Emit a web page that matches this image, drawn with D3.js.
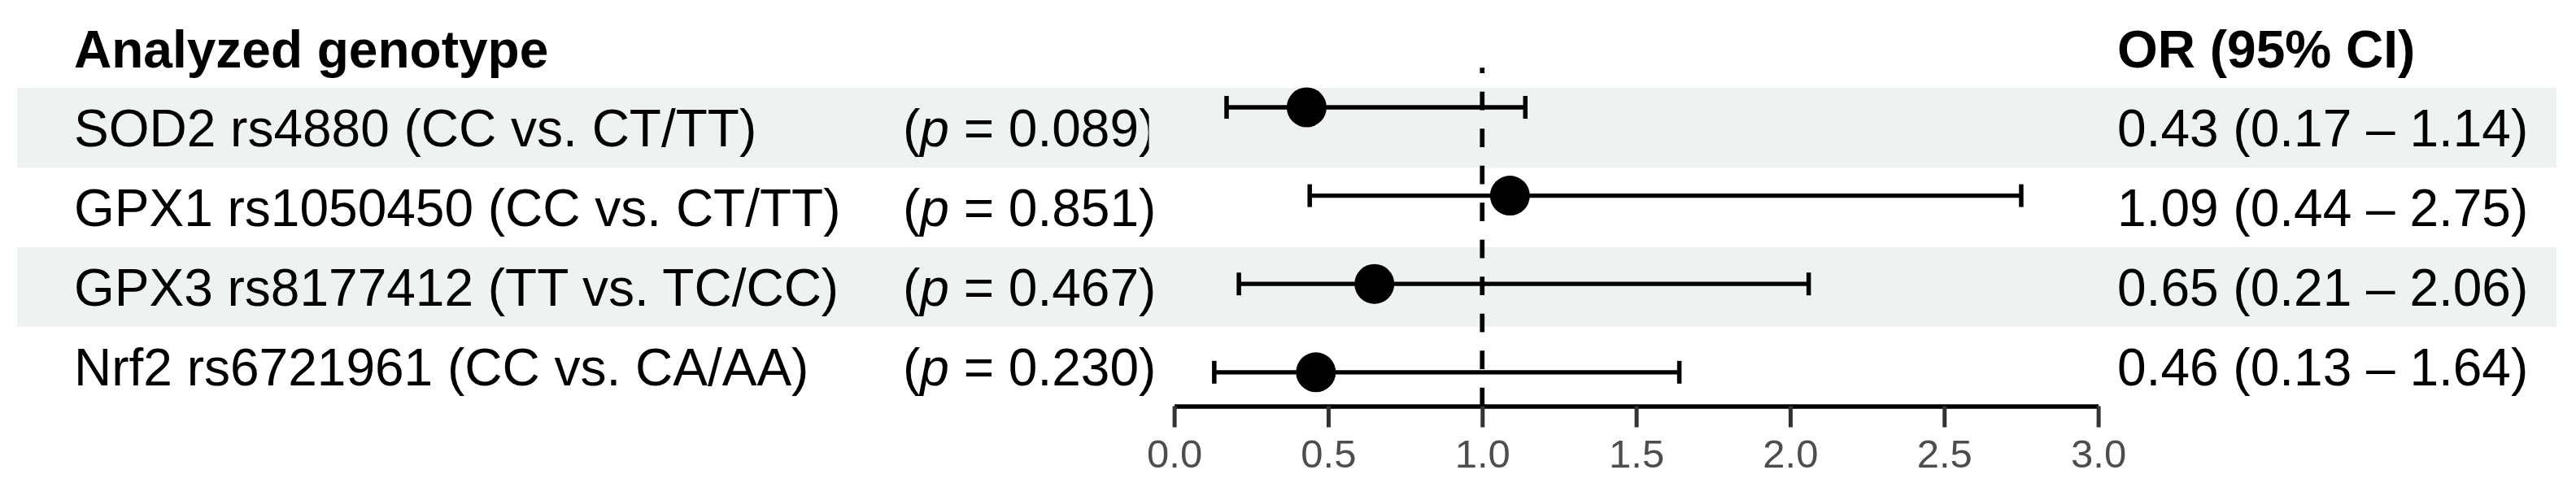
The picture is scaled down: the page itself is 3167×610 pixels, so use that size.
<!DOCTYPE html>
<html>
<head>
<meta charset="utf-8">
<script src="https://cdn.jsdelivr.net/npm/d3@7"></script>
<style>
  html, body { margin: 0; padding: 0; background: #fff; }
  svg { display: block; }
  text { font-family: "Liberation Sans", Arial, Helvetica, sans-serif; }
</style>
</head>
<body>
<script>
// ---- data ----
const genotypes = [
  "SOD2 rs4880 (CC vs. CT/TT)",
  "GPX1 rs1050450 (CC vs. CT/TT)",
  "GPX3 rs8177412 (TT vs. TC/CC)",
  "Nrf2 rs6721961 (CC vs. CA/AA)"
];
const pValues = ["0.089", "0.851", "0.467", "0.230"];
const oddsRatio = [0.43, 1.09, 0.65, 0.46];
const ciLower = [0.17, 0.44, 0.21, 0.13];
const ciUpper = [1.14, 2.75, 2.06, 1.64];
const xTicks = [0, 0.5, 1.0, 1.5, 2.0, 2.5, 3.0];
const headerLabel = "Analyzed genotype";
const headerOR = "OR (95% CI)";
const refLine = 1;

const rows = genotypes.map((g, i) => ({
  g, p: pValues[i], or: oddsRatio[i], lo: ciLower[i], hi: ciUpper[i], i
}));

const W = 3167, H = 610;
const svg = d3.select("body").append("svg").attr("width", W).attr("height", H);

const bandColor = "#eef2f1";
const fontSize = 64;

// row layout of the table
const rowBand = d3.scaleBand().domain(genotypes).range([108, 500]).paddingInner(0).paddingOuter(0);
// forest panel
const x = d3.scaleLinear().domain([0, 3]).range([1443.6, 2579.6]);
const y = d3.scalePoint().domain(genotypes).range([132, 457.8]);

// bands
svg.append("g").selectAll("rect").data(rows.filter(d => d.i % 2 === 0)).join("rect")
  .attr("x", 21).attr("width", 3143 - 21)
  .attr("y", d => rowBand(d.g)).attr("height", rowBand.bandwidth())
  .attr("fill", bandColor);

// headers
svg.append("text").attr("x", 91).attr("y", 83).attr("font-size", fontSize)
  .attr("font-weight", "bold").attr("fill", "#000").text(headerLabel);
svg.append("text").attr("x", 2603).attr("y", 83).attr("font-size", fontSize)
  .attr("font-weight", "bold").attr("fill", "#000").text(headerOR);

const textY = d => rowBand(d.g) + rowBand.bandwidth() / 2 + 23;

// genotype labels
svg.append("g").selectAll("text").data(rows).join("text")
  .attr("x", 91).attr("y", textY).attr("font-size", fontSize).attr("fill", "#000")
  .text(d => d.g);

// p values
const pt = svg.append("g").selectAll("text").data(rows).join("text")
  .attr("x", 1110).attr("y", textY).attr("font-size", fontSize).attr("fill", "#000")
  .attr("xml:space", "preserve");
pt.append("tspan").text("(");
pt.append("tspan").attr("font-style", "italic").text("p");
pt.append("tspan").text(d => " = " + d.p + ")");

// forest panel background over the first row (covers text overflow)
svg.append("g").selectAll("rect").data(rows.filter(d => d.i === 0)).join("rect")
  .attr("x", 1412.5).attr("width", 3143 - 1412.5)
  .attr("y", d => rowBand(d.g)).attr("height", rowBand.bandwidth())
  .attr("fill", bandColor);

// OR text
svg.append("g").selectAll("text").data(rows).join("text")
  .attr("x", 2603).attr("y", textY).attr("font-size", fontSize).attr("fill", "#000")
  .text(d => `${d.or.toFixed(2)} (${d.lo.toFixed(2)} \u2013 ${d.hi.toFixed(2)})`);

// reference dashed line
svg.append("path")
  .attr("d", d3.line()([[x(refLine), 499.5], [x(refLine), 83.3]]))
  .attr("stroke", "#000").attr("stroke-width", 5.7)
  .attr("stroke-dasharray", "22.75 22.75").attr("fill", "none");

// error bars
const eb = svg.append("g").selectAll("g").data(rows).join("g");
eb.append("line")
  .attr("x1", d => x(d.lo)).attr("x2", d => x(d.hi))
  .attr("y1", d => y(d.g)).attr("y2", d => y(d.g))
  .attr("stroke", "#000").attr("stroke-width", 5.3);
eb.append("line")
  .attr("x1", d => x(d.lo)).attr("x2", d => x(d.lo))
  .attr("y1", d => y(d.g) - 14).attr("y2", d => y(d.g) + 14)
  .attr("stroke", "#000").attr("stroke-width", 5.5);
eb.append("line")
  .attr("x1", d => x(d.hi)).attr("x2", d => x(d.hi))
  .attr("y1", d => y(d.g) - 14).attr("y2", d => y(d.g) + 14)
  .attr("stroke", "#000").attr("stroke-width", 5.5);

// points
svg.append("g").selectAll("circle").data(rows).join("circle")
  .attr("cx", d => x(d.or)).attr("cy", d => y(d.g)).attr("r", 24.5)
  .attr("fill", "#000");

// x axis
const ax = svg.append("g").attr("transform", "translate(0,499.5)")
  .call(d3.axisBottom(x).tickValues(xTicks).tickFormat(d3.format(".1f"))
    .tickSize(26).tickSizeOuter(0).tickPadding(15));
ax.select(".domain").attr("stroke", "#000").attr("stroke-width", 5.5);
ax.selectAll(".tick line").attr("stroke", "#333").attr("stroke-width", 5);
ax.selectAll(".tick text").attr("font-size", 49).attr("fill", "#4d4d4d")
  .attr("font-family", "'Liberation Sans', Arial, sans-serif");
</script>
</body>
</html>
